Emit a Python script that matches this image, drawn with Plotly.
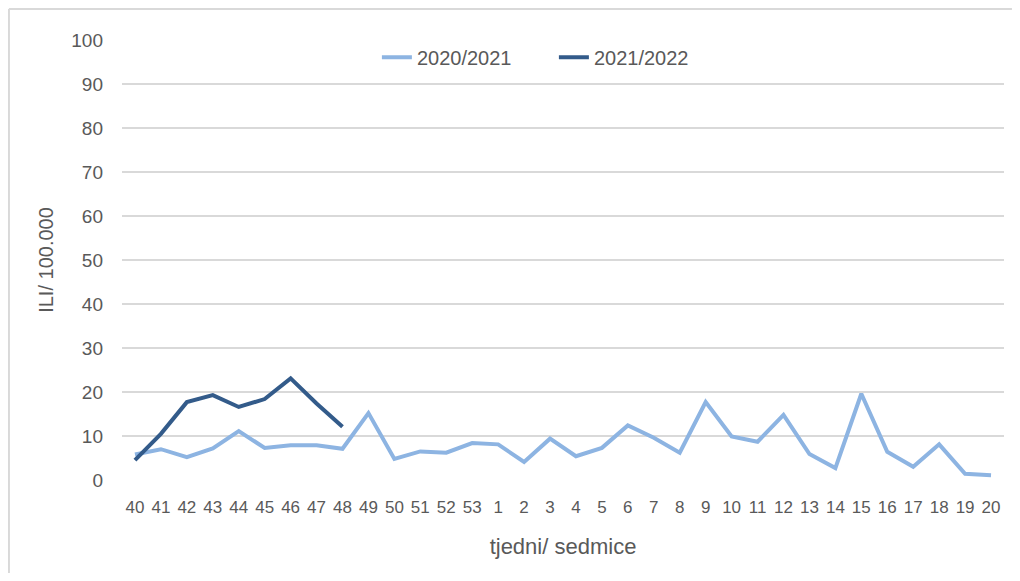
import plotly.graph_objects as go

weeks = ["40", "41", "42", "43", "44", "45", "46", "47", "48", "49", "50", "51", "52", "53",
         "1", "2", "3", "4", "5", "6", "7", "8", "9", "10", "11", "12", "13", "14", "15",
         "16", "17", "18", "19", "20"]
season_2020_2021 = [5.8, 7.0, 5.2, 7.2, 11.1, 7.3, 7.9, 7.9, 7.1, 15.2, 4.8, 6.5, 6.2, 8.4,
                    8.1, 4.1, 9.4, 5.4, 7.3, 12.4, 9.6, 6.2, 17.7, 9.9, 8.7, 14.8, 5.9, 2.7,
                    19.6, 6.4, 3.0, 8.1, 1.4, 1.1]
weeks_2021_2022 = ["40", "41", "42", "43", "44", "45", "46", "47", "48"]
season_2021_2022 = [4.5, 10.5, 17.7, 19.3, 16.6, 18.4, 23.1, 17.4, 12.1]

FONT = "Liberation Sans, Arial, sans-serif"
TXT = "#595959"

fig = go.Figure()
fig.add_trace(go.Scatter(x=weeks, y=season_2020_2021, mode="lines", name="2020/2021",
                         line=dict(color="#8DB4E2", width=4)))
fig.add_trace(go.Scatter(x=weeks_2021_2022, y=season_2021_2022, mode="lines", name="2021/2022",
                         line=dict(color="#335B8A", width=4)))

fig.update_layout(
    width=1004, height=565,
    margin=dict(l=114, r=8, t=32, b=93),
    paper_bgcolor="white", plot_bgcolor="white",
    font=dict(family=FONT, size=17, color=TXT),
    showlegend=True,
    legend=dict(orientation="h", x=0.289, xanchor="left", y=0.961, yanchor="middle",
                entrywidth=132, entrywidthmode="pixels",
                font=dict(size=20, color=TXT), bgcolor="rgba(0,0,0,0)"),
    xaxis=dict(type="category", categoryorder="array", categoryarray=weeks,
               range=[-0.5, len(weeks) - 0.5],
               showgrid=False, showline=False, ticks="", zeroline=False,
               tickfont=dict(size=17, color=TXT), ticklabelstandoff=15,
               title=dict(text="tjedni/ sedmice", font=dict(size=22, color=TXT), standoff=22)),
    yaxis=dict(range=[0, 100], dtick=10, showgrid=True, gridcolor="#D9D9D9", gridwidth=1.5,
               zeroline=False, showline=False, ticks="",
               tickfont=dict(size=19, color=TXT), ticklabelstandoff=18,
               title=dict(text="ILI/ 100.000", font=dict(size=20, color=TXT), standoff=12)),
)
# chart-area border (top and left edges visible in the reference)
fig.add_shape(type="line", xref="paper", yref="paper",
              x0=-0.1282, x1=-0.1282, y0=-0.2114, y1=1.0705,
              line=dict(color="#D9D9D9", width=2), layer="below")
fig.add_shape(type="line", xref="paper", yref="paper",
              x0=-0.1282, x1=1.009, y0=1.0705, y1=1.0705,
              line=dict(color="#D9D9D9", width=2), layer="below")

fig.write_html("out.html")
